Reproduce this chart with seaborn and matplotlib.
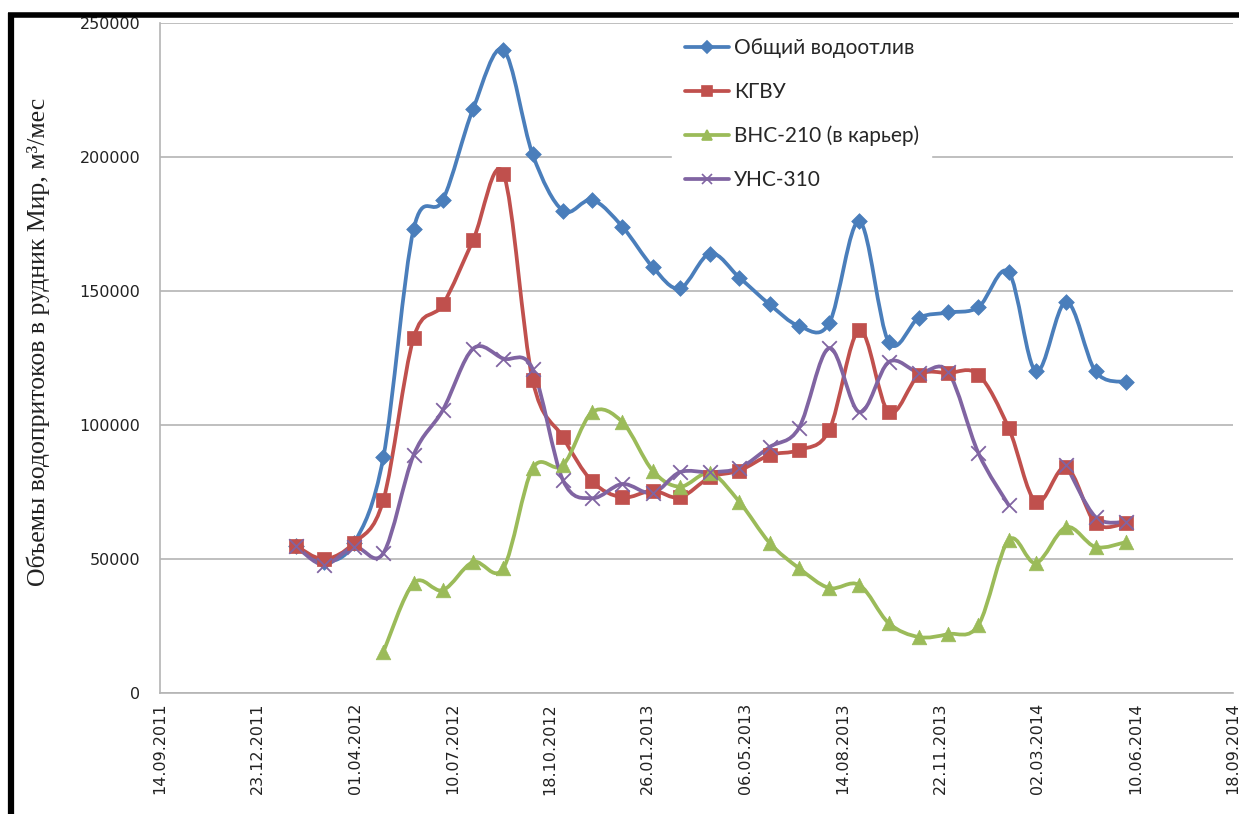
import numpy as np
import pandas as pd
import matplotlib
matplotlib.use("Agg")
import matplotlib.pyplot as plt
import matplotlib.dates as mdates
from matplotlib.path import Path
from matplotlib.patches import PathPatch
from matplotlib.lines import Line2D
import seaborn as sns

# ---- данные ----
dates = ["31.01.2012", "29.02.2012", "31.03.2012", "30.04.2012", "31.05.2012",
         "30.06.2012", "31.07.2012", "31.08.2012", "30.09.2012", "31.10.2012",
         "30.11.2012", "31.12.2012", "31.01.2013", "28.02.2013", "31.03.2013",
         "30.04.2013", "31.05.2013", "30.06.2013", "31.07.2013", "31.08.2013",
         "30.09.2013", "31.10.2013", "30.11.2013", "31.12.2013", "31.01.2014",
         "28.02.2014", "31.03.2014", "30.04.2014", "31.05.2014"]

obshiy = [55000, 49000, 56000, 88000, 173000, 184000, 218000, 240000, 201000,
          180000, 184000, 174000, 159000, 151000, 164000, 155000, 145000,
          137000, 138000, 176000, 131000, 140000, 142000, 144000, 157000,
          120000, 146000, 120000, 116000]

kgvu = [55000, 50000, 56000, 72000, 132500, 145000, 169000, 193800, 116800,
        95500, 79000, 73000, 75500, 73000, 80500, 83000, 88800, 90700, 98100,
        135400, 104800, 118600, 119400, 118800, 98900, 71300, 84300, 63400,
        63400]

vns210 = [np.nan, np.nan, np.nan, 15300, 41000, 38400, 48900, 46600, 83800,
          85000, 104800, 101100, 83000, 77000, 82000, 71300, 56000, 46600,
          39200, 40300, 26100, 20900, 22000, 25400, 57100, 48500, 61900,
          54500, 56300]

uns310 = [55000, 47800, 54500, 52200, 88800, 105600, 128500, 124800, 121000,
          79500, 72700, 78000, 74600, 82400, 82400, 84000, 91800, 98900,
          128700, 104800, 123500, 119600, 119800, 89500, 70100, np.nan,
          85000, 65700, 63800]

series_names = ["Общий водоотлив", "КГВУ", "ВНС-210 (в карьер)", "УНС-310"]
colors = ["#4A7EBB", "#C0504D", "#9BBB59", "#8064A2"]
markers = ["D", "s", "^", "x"]
msizes = [8, 10, 10.5, 10.5]

tick_labels = ["14.09.2011", "23.12.2011", "01.04.2012", "10.07.2012",
               "18.10.2012", "26.01.2013", "06.05.2013", "14.08.2013",
               "22.11.2013", "02.03.2014", "10.06.2014", "18.09.2014"]

ylabel = "Объемы водопритоков в рудник Мир, м³/мес"

# ---- таблица ----
df = pd.DataFrame({"date": pd.to_datetime(dates, format="%d.%m.%Y")})
for name, vals in zip(series_names, [obshiy, kgvu, vns210, uns310]):
    df[name] = vals
long = df.melt(id_vars="date", var_name="series", value_name="value")

sns.set_style("white")
plt.rcParams["font.family"] = ["DejaVu Sans"]

fig = plt.figure(figsize=(12.39, 8.14), dpi=100)
ax = fig.add_axes([0.1291, 0.1486, 0.8661, 0.8231])

grid_c = "#B4B4B4"


def smooth_path(xs, ys):
    # сглаженная линия как в Excel (Catmull-Rom -> Bezier)
    pts = np.column_stack([xs, ys])
    verts = [pts[0]]
    codes = [Path.MOVETO]
    n = len(pts)
    for i in range(n - 1):
        p0 = pts[i - 1] if i > 0 else pts[i]
        p1 = pts[i]
        p2 = pts[i + 1]
        p3 = pts[i + 2] if i + 2 < n else pts[i + 1]
        c1 = p1 + (p2 - p0) / 6.0
        c2 = p2 - (p3 - p1) / 6.0
        verts += [c1, c2, p2]
        codes += [Path.CURVE4] * 3
    return Path(verts, codes)


xnum = mdates.date2num(df["date"])
for name, col in zip(series_names, colors):
    y = df[name].to_numpy(dtype=float)
    idx = np.where(~np.isnan(y))[0]
    # разбивка на непрерывные участки
    runs = np.split(idx, np.where(np.diff(idx) > 1)[0] + 1)
    for r in runs:
        if len(r) < 2:
            continue
        ax.add_patch(PathPatch(smooth_path(xnum[r], y[r]), fill=False,
                               edgecolor=col, lw=2.7, zorder=3,
                               capstyle="round", joinstyle="round"))

for name, col, mk, ms in zip(series_names, colors, markers, msizes):
    sub = long[long["series"] == name].dropna()
    if mk == "x":
        sns.scatterplot(data=sub, x="date", y="value", marker=mk, s=ms ** 2,
                        color=col, linewidth=1.3, ax=ax, zorder=4,
                        legend=False)
    else:
        sns.scatterplot(data=sub, x="date", y="value", marker=mk, s=ms ** 2,
                        color=col, edgecolor=col, linewidth=0.5, ax=ax,
                        zorder=4, legend=False)

# ---- оси ----
ticks = pd.to_datetime(tick_labels, format="%d.%m.%Y")
ax.set_xlim(ticks[0], ticks[-1])
ax.set_xticks(ticks)
ax.set_xticklabels(tick_labels, rotation=90, fontsize=11.5, color="#222222")
ax.set_ylim(0, 250000)
ax.set_yticks(range(0, 250001, 50000))
ax.set_yticklabels([str(v) for v in range(0, 250001, 50000)], fontsize=11.5,
                   color="#222222")
ax.yaxis.grid(True, color=grid_c, lw=1.2)
ax.set_axisbelow(True)
for s in ["top", "right"]:
    ax.spines[s].set_visible(False)
for s in ["left", "bottom"]:
    ax.spines[s].set_color(grid_c)
    ax.spines[s].set_linewidth(1.2)
ax.tick_params(axis="both", direction="out", length=6, width=1.2,
               color=grid_c)
ax.tick_params(axis="x", pad=1)
ax.tick_params(axis="y", pad=8)
ax.set_xlabel("")
ax.set_ylabel(ylabel, family=["Liberation Serif", "DejaVu Serif"],
              fontsize=18.5, color="#222222")
ax.yaxis.set_label_coords(-0.1025, 0.524)

# ---- легенда ----
handles = [Line2D([0], [0], color=c, lw=2.7, marker=m, markersize=ms * 0.75,
                  markeredgecolor=c, markeredgewidth=1.2)
           for c, m, ms in zip(colors, markers, msizes)]
leg = ax.legend(handles, series_names, loc="upper left",
                bbox_to_anchor=(0.4677, 1.012), frameon=True, framealpha=1,
                facecolor="white", edgecolor="white",
                handlelength=2.1, handletextpad=0.25, labelspacing=1.15,
                borderpad=0.6, prop={"family": ["Lato", "DejaVu Sans"],
                                     "size": 15})
leg.set_zorder(5)

# ---- рамка скриншота ----
fig.add_artist(Line2D([8 / 1239, 1.0], [1 - 14.5 / 814, 1 - 14.5 / 814],
                      color="black", lw=4, solid_capstyle="butt",
                      transform=fig.transFigure))
fig.add_artist(Line2D([11 / 1239, 11 / 1239], [0, 1 - 12.5 / 814],
                      color="black", lw=4.5, solid_capstyle="butt",
                      transform=fig.transFigure))

fig.savefig("out.png", dpi=100, facecolor="white")
